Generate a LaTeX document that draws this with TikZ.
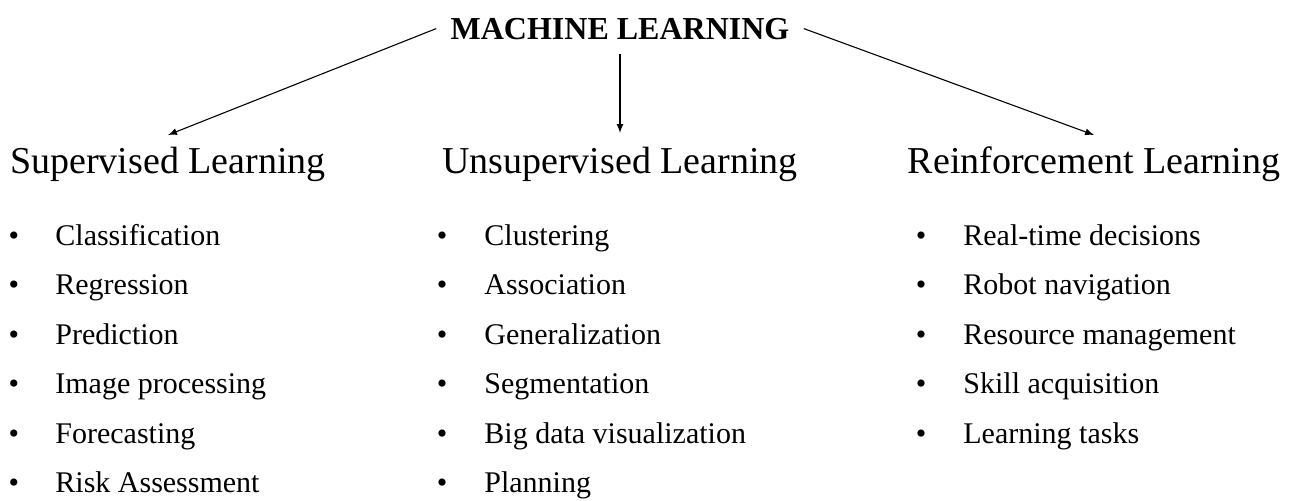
\documentclass[tikz,border=0pt]{standalone}
\usepackage{fontspec}
\setmainfont{Liberation Serif}
\usetikzlibrary{arrows}

\begin{document}
\begin{tikzpicture}[x=0.5pt,y=-0.5pt,
    head/.style={font=\fontsize{19}{22}\selectfont,anchor=base,inner sep=2pt},
    item/.style={font=\fontsize{15}{18}\selectfont,anchor=base west,inner sep=0pt},
    dot/.style={font=\fontsize{15}{18}\selectfont,anchor=base,inner sep=0pt}]
      \useasboundingbox (0,0) rectangle (1289,500);
      \node (ml) at (620,39) [anchor=base,inner sep=7pt,font=\fontsize{16}{18}\selectfont\bfseries] {MACHINE LEARNING};
      \node (sup) at (168,173) [head] {Supervised Learning};
      \node (uns) at (620,173) [head] {Unsupervised Learning};
      \node (rei) at (1094,173) [head] {Reinforcement Learning};
      \draw[-latex,line width=0.55pt] (ml.west) -- ([yshift=19pt]sup.base);
      \draw[-latex,line width=0.55pt] (ml.south) -- ([yshift=20pt]uns.base);
      \draw[-latex,line width=0.55pt] (ml.east) -- ([yshift=19pt]rei.base);
      % items under each heading
      \foreach \t [count=\i] in {Classification,Regression,Prediction,Image processing,Forecasting,Risk Assessment}
        {\node (supdot\i) at (14,195.5+49.5*\i) [dot] {\textbullet};
         \node (supitem\i) at (55,195.5+49.5*\i) [item] {\t};}
      \foreach \t [count=\i] in {Clustering,Association,Generalization,Segmentation,Big data visualization,Planning}
        {\node (unsdot\i) at (442,195.5+49.5*\i) [dot] {\textbullet};
         \node (unsitem\i) at (484,195.5+49.5*\i) [item] {\t};}
      \foreach \t [count=\i] in {Real-time decisions,Robot navigation,Resource management,Skill acquisition,Learning tasks}
        {\node (reidot\i) at (921,195.5+49.5*\i) [dot] {\textbullet};
         \node (reiitem\i) at (963,195.5+49.5*\i) [item] {\t};}
    \end{tikzpicture}
\end{document}
